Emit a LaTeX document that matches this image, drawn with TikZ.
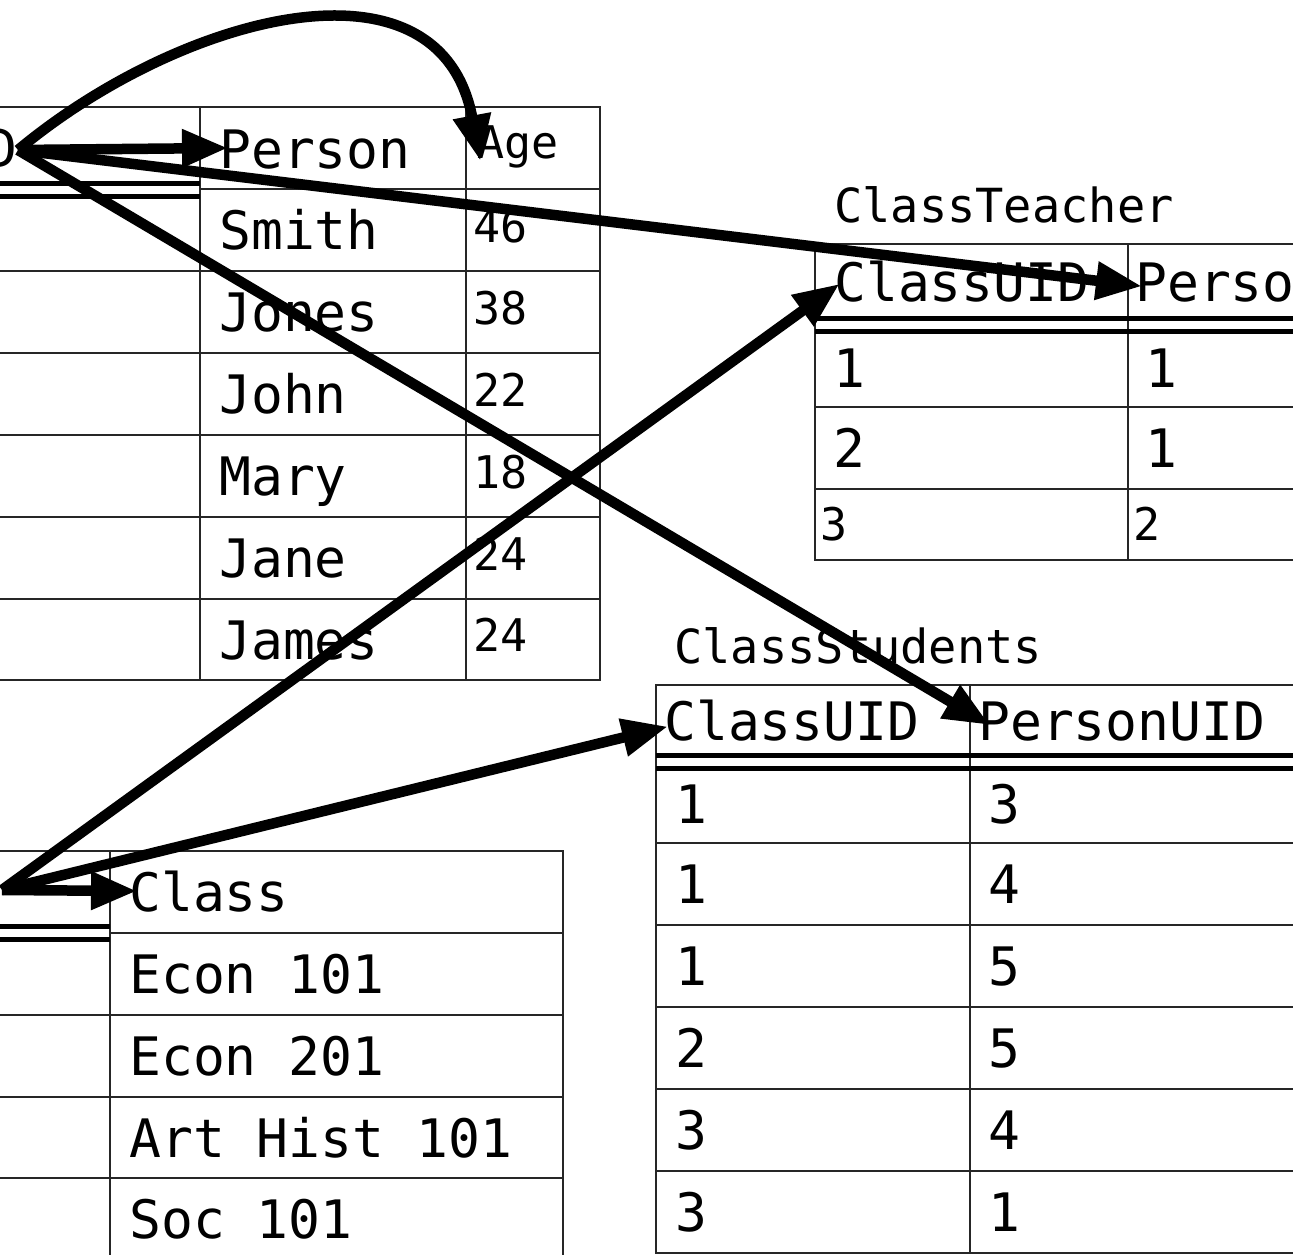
\documentclass[tikz,border=0pt]{standalone}
\usepackage{fontspec}
\setmainfont{DejaVu Sans Mono}
\usetikzlibrary{arrows.meta}
\tikzset{
  grid/.style={line width=2.5pt, draw=black!85},
  dbl/.style={line width=5pt, draw=black},
  big/.style={font=\fontsize{53}{60}\selectfont, anchor=base west, inner sep=0pt},
  mid/.style={font=\fontsize{47}{54}\selectfont, anchor=base west, inner sep=0pt},
  small/.style={font=\fontsize{45}{52}\selectfont, anchor=base west, inner sep=0pt},
  link/.style={line width=10.5pt, -{Triangle[length=46pt,width=36pt]}, shorten >=-2pt},
}
\begin{document}
\begin{tikzpicture}[x=1pt,y=-1pt]
\useasboundingbox (0,0) rectangle (1293,1255);
\clip (0,0) rectangle (1293,1255);
\fill[white] (0,0) rectangle (1293,1255);

% ---------- Person table ----------
\draw[grid] (-10,107) -- (600,107) -- (600,680) -- (-10,680);
\draw[grid] (200,107) -- (200,680);
\draw[grid] (466,107) -- (466,680);
\draw[grid] (200,189) -- (600,189);
\foreach \y in {271,353,435,517,599} \draw[grid] (-10,\y) -- (600,\y);
\draw[dbl] (-10,183) -- (200,183);
\draw[dbl] (-10,196) -- (200,196);
\node[big, anchor=base east] (puid) at (18,167) {PersonUID};
\node[big] (person) at (219,168) {Person};
\node[small] (age) at (477,158) {Age};
\node[big] (n1) at (219,249) {Smith};
\node[big] (n2) at (219,331) {Jones};
\node[big] (n3) at (219,413) {John};
\node[big] (n4) at (219,495) {Mary};
\node[big] (n5) at (219,577) {Jane};
\node[big] (n6) at (219,659) {James};
\node[small] (a1) at (473,242) {46};
\node[small] (a2) at (473,324) {38};
\node[small] (a3) at (473,406) {22};
\node[small] (a4) at (473,488) {18};
\node[small] (a5) at (473,570) {24};
\node[small] (a6) at (473,651) {24};

% ---------- ClassTeacher ----------
\node[mid] (cttitle) at (834,222) {ClassTeacher};
\draw[grid] (1300,244) -- (815,244) -- (815,560) -- (1300,560);
\draw[grid] (1128,244) -- (1128,560);
\draw[grid] (815,407) -- (1300,407);
\draw[grid] (815,489) -- (1300,489);
\draw[dbl] (815,318) -- (1300,318);
\draw[dbl] (815,331) -- (1300,331);
\node[big] (ctc) at (834,301) {ClassUID};
\node[big] (ctp) at (1135,301) {PersonUID};
\node[big] (ct11) at (833,387) {1};
\node[big] (ct12) at (1145,387) {1};
\node[big] (ct21) at (833,467) {2};
\node[big] (ct22) at (1145,467) {1};
\node[small] (ct31) at (820,540) {3};
\node[small] (ct32) at (1133,540) {2};

% ---------- ClassStudents ----------
\node[mid] (cstitle) at (674,663) {ClassStudents};
\draw[grid] (1300,685) -- (656,685) -- (656,1253) -- (1300,1253);
\draw[grid] (970,685) -- (970,1253);
\foreach \y in {843,925,1007,1089,1171} \draw[grid] (656,\y) -- (1300,\y);
\draw[dbl] (656,755) -- (1300,755);
\draw[dbl] (656,768) -- (1300,768);
\node[big] (csc) at (664,740) {ClassUID};
\node[big] (csp) at (978,740) {PersonUID};
\node[big] (cs11) at (675,823) {1};  \node[big] (cs12) at (988,823) {3};
\node[big] (cs21) at (675,903) {1};  \node[big] (cs22) at (988,903) {4};
\node[big] (cs31) at (675,985) {1};  \node[big] (cs32) at (988,985) {5};
\node[big] (cs41) at (675,1067) {2}; \node[big] (cs42) at (988,1067) {5};
\node[big] (cs51) at (675,1149) {3}; \node[big] (cs52) at (988,1149) {4};
\node[big] (cs61) at (675,1231) {3}; \node[big] (cs62) at (988,1231) {1};

% ---------- Class table ----------
\draw[grid] (-10,851) -- (563,851) -- (563,1270);
\draw[grid] (110,851) -- (110,1270);
\draw[grid] (110,933) -- (563,933);
\foreach \y in {1015,1097,1178} \draw[grid] (-10,\y) -- (563,\y);
\draw[dbl] (-10,926) -- (110,926);
\draw[dbl] (-10,939) -- (110,939);
\node[big] (cls) at (129,911) {Class};
\node[big] (c1) at (129,993) {Econ 101};
\node[big] (c2) at (129,1075) {Econ 201};
\node[big] (c3) at (129,1157) {Art Hist 101};
\node[big] (c4) at (129,1238) {Soc 101};

% ---------- connectors ----------
\coordinate (pk) at (18,150);
\coordinate (ck) at (2,890);
\coordinate (tPerson) at (226,148);
\coordinate (tAge) at (480,159);
\coordinate (tCTp) at (1140,286);
\coordinate (tCSp) at (988,724);
\coordinate (tClass) at (135,891);
\coordinate (tCTc) at (838,285);
\coordinate (tCSc) at (666,727);

\draw[link] (pk) -- (tPerson);
\draw[link] (pk) .. controls (180,15) and (440,-55) .. (tAge);
\draw[link] (pk) -- (tCTp);
\draw[link] (pk) -- (tCSp);
\draw[link] (ck) -- (tClass);
\draw[link] (ck) -- (tCTc);
\draw[link] (ck) -- (tCSc);
\end{tikzpicture}
\end{document}
